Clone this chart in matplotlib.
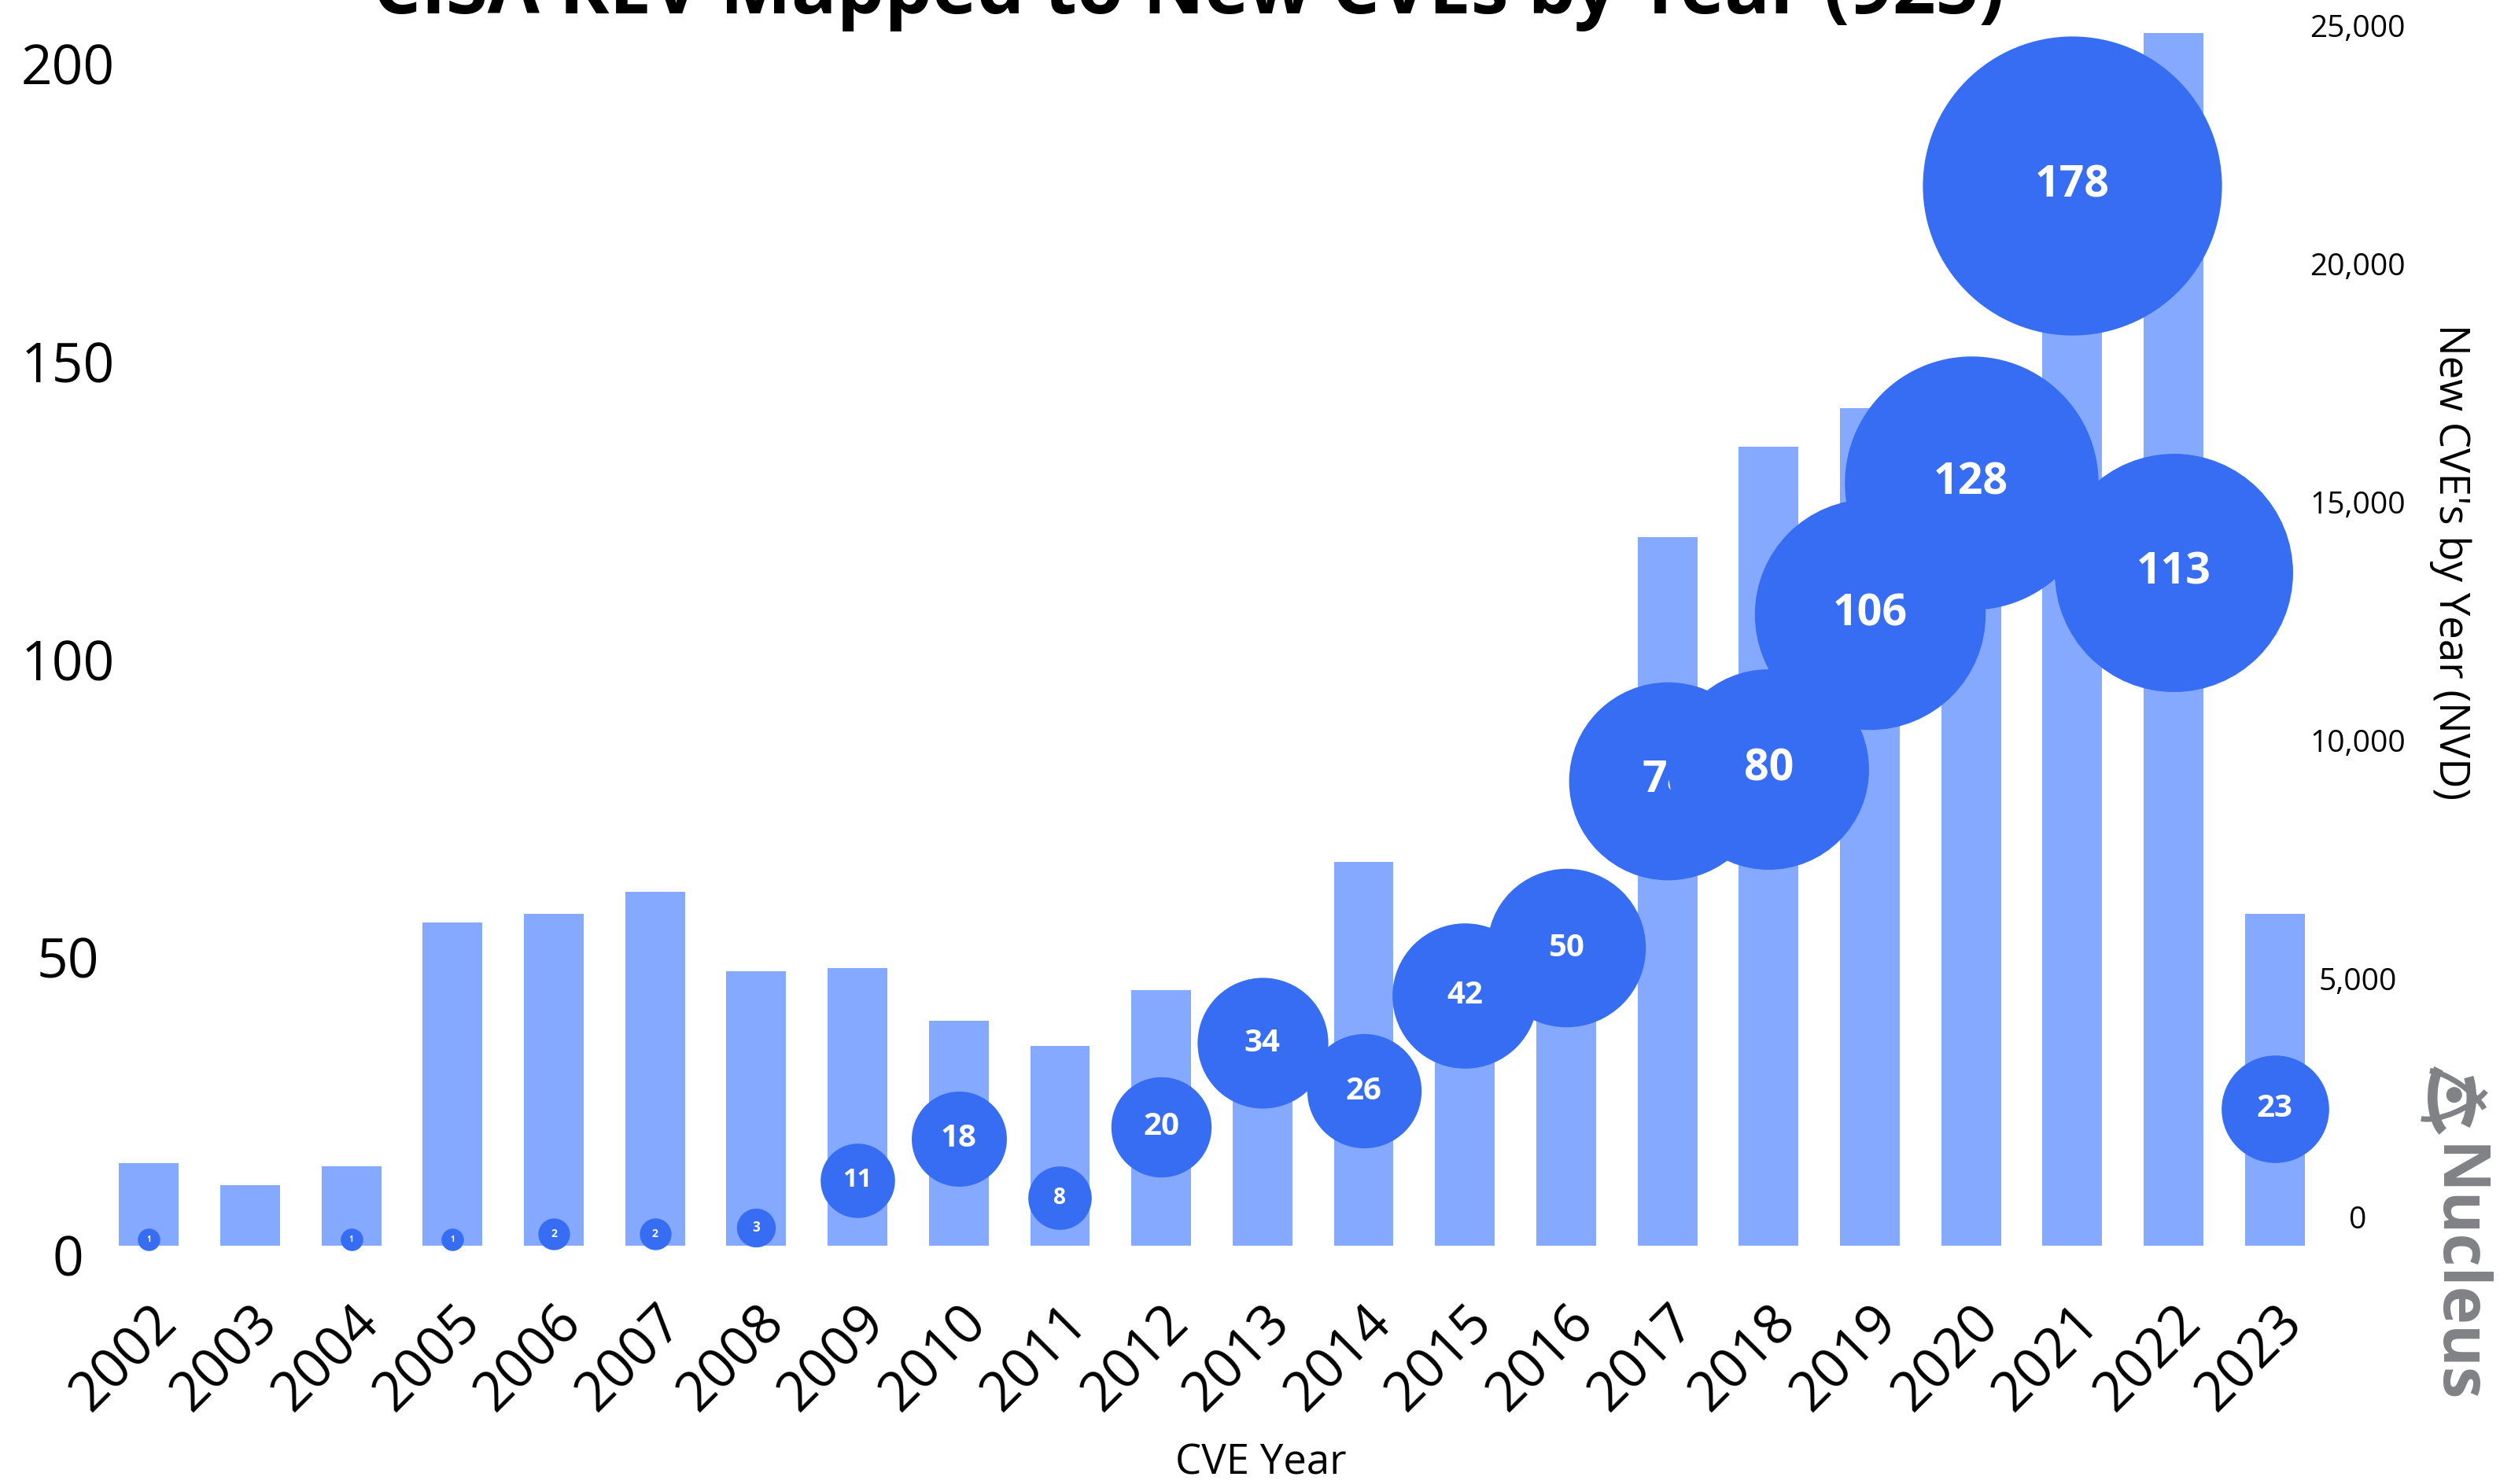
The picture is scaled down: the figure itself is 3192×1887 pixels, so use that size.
import numpy as np
import matplotlib
matplotlib.use("Agg")
from matplotlib import pyplot as plt
from matplotlib.patches import Arc, Circle
from matplotlib.transforms import ScaledTranslation


years = ["2002", "2003", "2004", "2005", "2006", "2007", "2008", "2009", "2010", "2011", "2012",
         "2013", "2014", "2015", "2016", "2017", "2018", "2019", "2020", "2021", "2022", "2023"]
kev_counts = [1, 0, 1, 1, 2, 2, 3, 11, 18, 8, 20, 34, 26, 42, 50, 78, 80, 106, 128, 178, 113, 23]
nvd_counts = [1740, 1270, 1660, 6790, 6960, 7430, 5760, 5820, 4720, 4190, 5360,
              5200, 8060, 6600, 6500, 14870, 16760, 17570, 18300, 20200, 25450, 6970]
kev_ticks = [0, 50, 100, 150, 200]
nvd_ticks = [0, 5000, 10000, 15000, 20000, 25000]

BUBBLE = "#376DF2"
BAR = "#85A9FF"
GREY = "#808285"
DPI = 100
W, H = 3192, 1887


#radius of a bubble in pixels, area follows the KEV count
def bubble_radius(v):
	return 14.25 * np.sqrt(v)


def label_size(v):
	if v >= 70:
		return 40
	return min(0.5 * bubble_radius(v), 29)


def shift(fig, dx, dy):
	return ScaledTranslation(dx / DPI, dy / DPI, fig.dpi_scale_trans)


def draw_logo(fig):
	lx, ly, ls = 3062, 1340, 110
	ax = fig.add_axes([lx / W, 1 - (ly + ls) / H, ls / W, ls / H])
	ax.set_xlim(-1, 1)
	ax.set_ylim(-1, 1)
	ax.set_aspect("equal")
	ax.axis("off")
	ax.add_patch(Circle((0.05, 0.05), 0.17, color=GREY))
	ax.add_patch(Arc((0, 0), 1.8, 0.9, angle=90, theta1=25, theta2=165, color=GREY, lw=9))
	ax.add_patch(Arc((0, 0), 1.9, 0.7, angle=25, theta1=190, theta2=345, color=GREY, lw=5))
	ax.add_patch(Arc((0, 0), 1.9, 0.7, angle=-35, theta1=15, theta2=165, color=GREY, lw=5))
	ax.add_patch(Arc((0, 0), 1.8, 0.9, angle=90, theta1=205, theta2=320, color=GREY, lw=9))


def main():
	plt.rcParams['font.family'] = ['Open Sans', 'DejaVu Sans']
	fig = plt.figure(figsize=(W / DPI, H / DPI), dpi=DPI)
	left, right, bottom, top = 125, 2956, 1584, 69
	ax = fig.add_axes([left / W, 1 - bottom / H, (right - left) / W, (bottom - top) / H])
	ax2 = ax.twinx()

	x = np.arange(len(years))

	# NVD bars on the right-hand scale
	ax.bar(x, nvd_counts, width=0.59, color=BAR, clip_on=False, zorder=1)
	ax.set_ylim(0, 25000)
	ax.set_xlim(-0.5, len(years) - 0.5)
	ax.yaxis.tick_right()
	ax.set_yticks(nvd_ticks, [f"{t:,}" for t in nvd_ticks])
	ax.tick_params(axis="y", length=0, pad=29.5, labelsize=28)
	for lbl in ax.get_yticklabels():
		lbl.set_ha("center")
		lbl.set_transform(lbl.get_transform() + shift(fig, 0, 36))

	ax.set_xticks(x, years, rotation=45, ha="right", va="center", rotation_mode="anchor")
	ax.tick_params(axis="x", length=0, pad=63, labelsize=50)
	for lbl in ax.get_xticklabels():
		lbl.set_transform(lbl.get_transform() + shift(fig, 25, 0))

	ax.set_xlabel("CVE Year", fontsize=38)
	ax.xaxis.set_label_coords(0.522, -0.183)
	ax.xaxis.label.set_va("center")

	# KEV bubbles on the left-hand scale, later years drawn over earlier ones
	for i, v in enumerate(kev_counts):
		if v == 0:
			continue
		r_pt = bubble_radius(v) * 72 / DPI
		ax2.scatter(x[i], v, s=(2 * r_pt) ** 2, color=BUBBLE, linewidths=0,
		            clip_on=False, zorder=3 + 2 * i)
		ax2.text(x[i], v, str(v), color="white", fontsize=label_size(v), fontweight="bold",
		         ha="center", va="center", zorder=4 + 2 * i, clip_on=False)
	ax2.set_ylim(0, 200)
	ax2.yaxis.tick_left()
	ax2.set_yticks(kev_ticks, [str(t) for t in kev_ticks])
	ax2.tick_params(axis="y", length=0, pad=28, labelsize=50)
	for lbl in ax2.get_yticklabels():
		lbl.set_ha("center")
		lbl.set_transform(lbl.get_transform() + shift(fig, 0, -12))

	for a in (ax, ax2):
		for s in a.spines.values():
			s.set_visible(False)

	fig.text(3115 / W, 1 - 715 / H, "New CVE's by Year (NVD)", rotation=-90,
	         fontsize=38, ha="center", va="center")
	fig.text(1511 / W, 1 - 17 / H, "CISA KEV Mapped to New CVEs by Year (925)",
	         fontsize=69, fontweight="bold", ha="center", va="baseline")

	fig.text(3120 / W, 1 - 1620 / H, "Nucleus", rotation=-90, fontsize=59,
	         fontweight="bold", color=GREY, ha="center", va="center")
	draw_logo(fig)

	fig.savefig("out.png", dpi=DPI, facecolor="white")


if __name__ == "__main__":
	main()
